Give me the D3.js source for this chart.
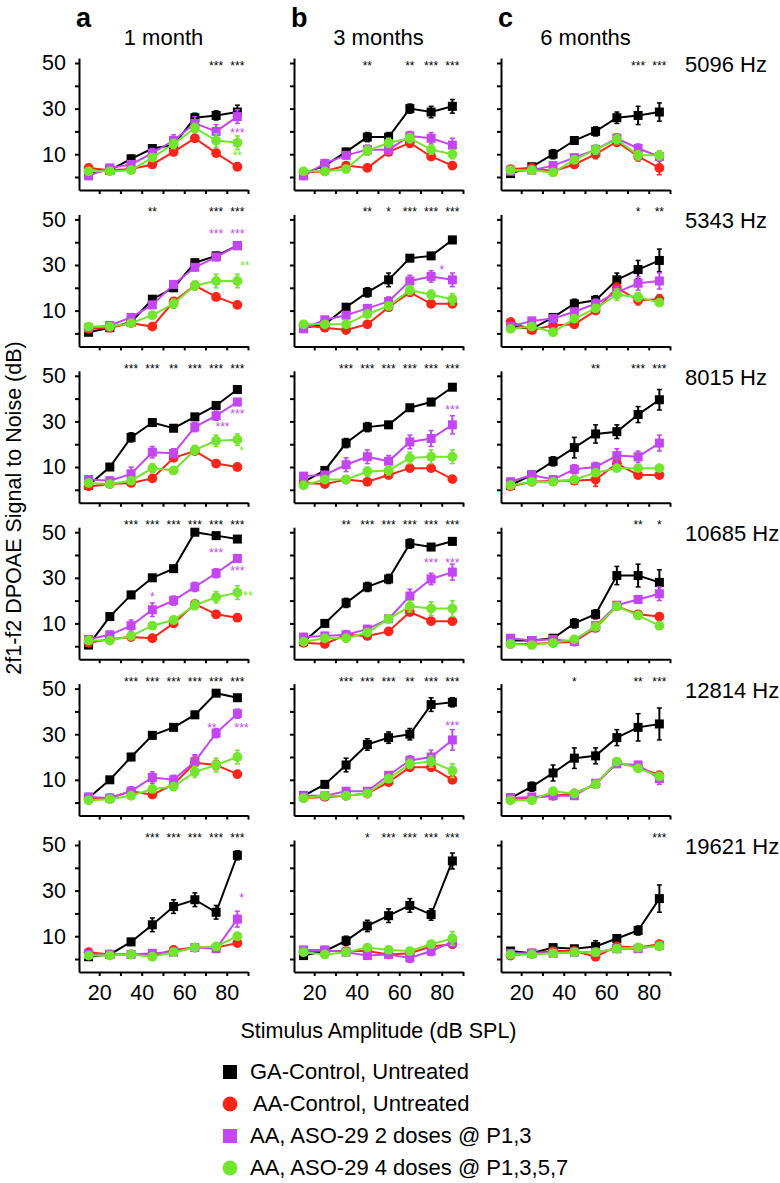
<!DOCTYPE html>
<html>
<head>
<meta charset="utf-8">
<script src="https://cdn.jsdelivr.net/npm/d3@7"></script>
<style>
  body { margin: 0; background: #fff; }
  svg text { font-family: "Liberation Sans", Arial, Helvetica, sans-serif; fill: #000; }
</style>
</head>
<body>
<div id="chart"></div>
<script>
// Stimulus levels (dB SPL) on the x axis
const levels = [15, 25, 35, 45, 55, 65, 75, 85];
const xTicks = [20, 30, 40, 50, 60, 70, 80, 90];
const xTickLabels = [20, 40, 60, 80];
const yTicks = [0, 10, 20, 30, 40, 50];
const yTickLabels = [10, 30, 50];

const ages = ["1 month", "3 months", "6 months"];
const panelLetters = ["a", "b", "c"];
const freqs = ["5096 Hz", "5343 Hz", "8015 Hz", "10685 Hz", "12814 Hz", "19621 Hz"];

const seriesNames = [
  "GA-Control, Untreated",
  "AA-Control, Untreated",
  "AA, ASO-29 2 doses @ P1,3",
  "AA, ASO-29 4 doses @ P1,3,5,7"
];
const seriesColors = ["#000000", "#ff2418", "#c446f2", "#72e62c"];
const seriesShapes = ["square", "circle", "square", "circle"];

// mean signal-to-noise (dB), [frequency row][age column][level]
const gaControl = [
  [[2, 3, 8, 12.5, 14, 26, 27, 28.5], [1.5, 5, 11, 17.5, 17.5, 30, 28.5, 31], [1.5, 4.5, 10, 16, 20, 26, 27, 28.5]],
  [[0.5, 2.5, 5, 15, 20, 31, 34, 38.5], [2.5, 4, 11.5, 18, 23.5, 33, 34, 41], [3, 2, 7, 13, 14.5, 23.5, 28, 32]],
  [[2, 10, 23, 29.5, 27, 32, 37, 44], [3.5, 8.5, 20.5, 27.5, 28.5, 36, 38.5, 45], [2, 6.5, 12.5, 18.5, 24.5, 25.5, 33, 39.5]],
  [[0.5, 13, 22.5, 30, 34, 50, 48.5, 47], [2, 10, 19, 26, 29.5, 45, 43.5, 46], [2.5, 2.5, 3.5, 10, 14, 31, 31, 28]],
  [[2, 10, 20, 29.5, 33, 38.5, 48, 46], [3, 8, 16.5, 25.5, 28.5, 30, 43, 44], [2, 7, 13, 19.5, 20.5, 28.5, 33, 34.5]],
  [[1, 2, 7.5, 15, 23, 26, 20.5, 45.5], [1.5, 3.5, 8, 14.5, 19, 23.5, 19.5, 43], [3.5, 2.5, 5, 4.5, 5.5, 9, 12.5, 26.5]]
];
const aaControl = [
  [[4, 3, 3.5, 5.5, 11, 17, 10.5, 4.5], [2, 2.5, 5, 4, 11, 15, 9, 5], [3.5, 4, 2.5, 5.5, 10, 15.5, 9, 4]],
  [[2, 2.5, 4.5, 3, 14, 21, 16, 12.5], [3.5, 2.5, 1.5, 4, 11.5, 18, 13, 13], [5, 1.5, 3.5, 4, 10, 20, 14.5, 15]],
  [[1.5, 2.5, 3, 5, 14, 17, 11.5, 10], [3, 2.5, 4.5, 3.5, 6.5, 9.5, 9.5, 4.7], [1.5, 3.5, 4, 4, 4.5, 11.5, 6.5, 6.5]],
  [[1.5, 3, 4, 3.5, 10, 18.5, 14, 12.5], [1.5, 1, 5, 4.5, 6.5, 15, 11, 11], [1, 1, 1.5, 2, 8, 17.5, 14, 13]],
  [[2, 2, 5, 3.5, 8, 17.5, 16.5, 12.5], [2, 2.5, 3, 4, 9, 15.5, 15.5, 10], [1.5, 2, 3, 4, 8, 17.5, 15.5, 12]],
  [[3, 2, 2, 1.5, 4, 5, 5, 7], [3.5, 3.5, 3.5, 3.5, 2, 2.5, 5.5, 6.5], [1.5, 2.5, 3.5, 3.5, 1, 5.5, 5, 6.5]]
];
const aso2Doses = [
  [[0.5, 4, 5.5, 10.5, 16, 23.5, 20, 26.5], [0.5, 6, 9.5, 12, 12, 18, 17, 14], [2.5, 3, 5, 8.5, 12, 17, 12.5, 9]],
  [[2.5, 3.5, 7, 12.5, 21.5, 29, 33.5, 38.5], [2, 6, 8, 11, 14, 23, 25, 23.5], [3, 5.5, 6.5, 9.5, 13, 18, 22, 23]],
  [[4.5, 4, 7, 16.5, 16, 27.5, 32.5, 38.5], [6, 6.5, 11, 14.5, 12.5, 21, 22.5, 28.5], [3.5, 6.5, 4.5, 9, 10, 15, 14.5, 20.5]],
  [[3, 5, 9, 16, 20, 26, 32, 38.5], [4, 4.5, 5, 7.5, 12, 22, 29.5, 32.5], [3.5, 2.5, 3, 2, 9, 18, 20.5, 23]],
  [[2.5, 2, 5, 11, 10, 18, 30.5, 39], [3, 3, 5, 5, 12, 18.5, 20, 27.5], [2, 2.5, 3, 3, 8.5, 17, 16.5, 10.5]],
  [[2, 2, 2, 2.5, 3, 5, 4.5, 17.5], [4, 4, 3, 1.5, 2, 0.5, 3.5, 7.5], [2.5, 2.5, 2.5, 3, 3, 4.5, 4.5, 6]]
];
const aso4Doses = [
  [[2.5, 2.5, 3, 8.5, 14.5, 21.5, 16, 15], [2.5, 2.5, 3.5, 11.5, 15, 17, 12, 10], [3, 3, 2, 7.5, 12, 16.5, 9.5, 9.5]],
  [[3, 3, 4.5, 8, 13, 21, 23, 23], [4, 4, 4, 8.5, 12, 19, 17, 15], [2, 3, 0.5, 6.5, 11, 17, 16, 13.5]],
  [[3, 2.5, 4, 9.5, 8.5, 17.5, 21.5, 22], [2, 4.5, 4.5, 8, 8.5, 14, 14.5, 14.5], [2, 3.5, 3.5, 4.5, 7.5, 9.5, 9.5, 9.5]],
  [[2.5, 2.5, 4.5, 9, 11.5, 18, 21.5, 23.5], [2, 3.5, 3.5, 6, 12, 17.5, 16.5, 16.5], [1, 0.5, 1.5, 3, 8.5, 17.5, 13.5, 9]],
  [[1, 1.5, 3, 6, 7, 13.5, 16.5, 20], [2, 3, 3, 4, 10.5, 17, 18, 14], [1, 1, 5, 4, 8, 18, 15, 11.5]],
  [[1.5, 1.5, 2, 1, 3, 5, 5.5, 10], [3, 2, 3, 5, 4, 3.5, 6.5, 9], [2, 2, 2.5, 3, 3, 4.5, 5, 5.5]]
];

// SEM (dB), same layout
const gaControlErr = [
  [[1, 1, 1.5, 1.5, 1.5, 2, 2, 3], [1, 1, 1.5, 2, 2, 2, 2.5, 3], [1.5, 1, 2, 1.5, 2, 2.5, 4, 4]],
  [[1, 1, 1, 1.5, 1.5, 1.5, 1.5, 1.5], [1, 1, 1.5, 2, 3, 1, 1, 1.5], [1, 1, 1.5, 2, 2, 3, 4, 5]],
  [[1, 1, 2, 1, 1, 1, 1, 1], [1, 1.5, 2, 2, 1, 1, 1.5, 1], [1, 1.5, 2, 4.5, 4, 3, 3.5, 4.5]],
  [[1, 1, 1.5, 1, 1, 1, 1, 1], [1, 1, 2, 2, 2, 2, 1, 1.5], [1, 1, 1.5, 2, 2, 4, 5, 5.5]],
  [[1, 1, 1.5, 1.5, 1, 1.5, 1, 1], [1, 1.5, 3, 2.5, 2.5, 2.5, 3, 2], [1.5, 2, 3.5, 4.5, 3.5, 3.5, 6, 7]],
  [[1, 1, 1.5, 3, 3, 3, 3, 2], [1, 1, 2, 2.5, 3, 3, 2.5, 3.5], [1, 1, 1, 1, 2.5, 1.5, 2, 6]]
];
const aaControlErr = [
  [[1, 1, 1, 1, 1.5, 1.5, 1.5, 1.5], [1, 1, 1, 1.5, 1.5, 2, 1.5, 1.5], [1, 1, 1, 1.5, 2, 2, 2, 3]],
  [[1, 1, 1, 1, 1.5, 1.5, 1.5, 1.5], [1, 1, 1, 1, 1.5, 1.5, 1.5, 1.5], [1, 1, 1, 1.5, 1.5, 2, 2, 2]],
  [[1, 1, 1, 1, 1.5, 1.5, 1.5, 1], [1, 1, 1, 1, 1.5, 1.5, 1.5, 1], [1, 1, 1, 1.5, 3, 2, 1.5, 1.5]],
  [[1, 1, 1, 1, 1.5, 1.5, 1.5, 1.5], [1, 1, 1, 1, 1.5, 1.5, 1.5, 1.5], [1, 1, 1, 1, 1.5, 1.5, 1.5, 1.5]],
  [[1, 1, 1, 1, 1.5, 3, 2, 1.5], [1, 1, 1, 1, 1.5, 1.5, 1.5, 1.5], [1, 1, 1, 1, 1.5, 1.5, 1.5, 1.5]],
  [[1, 1, 1, 1, 1, 1, 1, 1], [1, 1, 1, 1, 1, 1.5, 1.5, 1.5], [1, 1, 1, 1, 1.5, 1, 1, 1.5]]
];
const aso2DosesErr = [
  [[1, 1, 1.5, 2, 2.5, 3, 3, 3], [1, 1, 1.5, 2, 2, 2, 2.5, 3], [1, 1, 1.5, 1.5, 2, 2, 2, 2]],
  [[1, 1, 1.5, 1.5, 1.5, 1.5, 1.5, 1.5], [1, 1, 1.5, 1.5, 2, 2.5, 2.5, 3], [1, 1, 1.5, 1.5, 2, 2.5, 3, 3.5]],
  [[1.5, 1.5, 3, 2.5, 2, 2, 2, 1.5], [1.5, 1.5, 3, 3, 2.5, 3, 3.5, 4], [1.5, 1.5, 1.5, 2, 2, 3, 2.5, 3.5]],
  [[1.5, 1.5, 2.5, 3, 2, 2, 2, 1.5], [1.5, 1.5, 1.5, 1.5, 1.5, 3, 2.5, 3.5], [1.5, 1, 1, 1.5, 1.5, 1.5, 1.5, 3]],
  [[1.5, 1.5, 2, 2.5, 2, 3, 2, 2], [1.5, 1.5, 1.5, 1.5, 1.5, 2, 3, 4.5], [1, 1, 1, 1, 1.5, 1.5, 1.5, 2.5]],
  [[1, 1, 1, 1, 1, 1.5, 1.5, 3.5], [1, 1, 1, 1.5, 1.5, 2, 2, 2], [1, 1, 1, 1, 1, 1, 1, 1.5]]
];
const aso4DosesErr = [
  [[1, 1, 1, 1.5, 2, 2, 3, 3], [1, 1, 1, 2, 2, 2, 2, 2], [1, 1, 1, 1.5, 2, 2, 2, 2]],
  [[1, 1, 1, 1.5, 2, 2, 3, 3], [1, 1, 1, 1.5, 1.5, 2, 2, 2.5], [1, 1, 1, 1.5, 1.5, 2.5, 2, 1.5]],
  [[1, 1, 1.5, 2, 1.5, 2, 2.5, 2.5], [1, 1, 1.5, 2, 2, 2.5, 3, 3], [1, 1, 1, 1, 1.5, 1.5, 1, 1]],
  [[1, 1, 1, 1.5, 1.5, 2, 2.5, 3], [1, 1, 1, 1.5, 1.5, 2.5, 3, 3.5], [1, 1, 1, 1, 1.5, 1.5, 1.5, 1.5]],
  [[1, 1, 1, 1.5, 1.5, 2.5, 3, 3], [1, 1, 1, 1, 1.5, 2, 2.5, 3], [1, 1, 1, 1, 1.5, 1.5, 1.5, 1.5]],
  [[1, 1, 1, 1, 1, 1, 1, 1.5], [1, 1, 1, 1, 1, 1, 1.5, 3], [1, 1, 1, 1, 1, 1, 1, 1]]
];

// GA-Control vs AA-Control significance, per level
const gaStars = [
  [["", "", "", "", "", "", "***", "***"], ["", "", "", "**", "", "**", "***", "***"], ["", "", "", "", "", "", "***", "***"]],
  [["", "", "", "**", "", "", "***", "***"], ["", "", "", "**", "*", "***", "***", "***"], ["", "", "", "", "", "", "*", "**"]],
  [["", "", "***", "***", "**", "***", "***", "***"], ["", "", "***", "***", "***", "***", "***", "***"], ["", "", "", "", "**", "", "***", "***"]],
  [["", "", "***", "***", "***", "***", "***", "***"], ["", "", "**", "***", "***", "***", "***", "***"], ["", "", "", "", "", "", "**", "*"]],
  [["", "", "***", "***", "***", "***", "***", "***"], ["", "", "***", "***", "***", "**", "***", "***"], ["", "", "", "*", "", "", "**", "***"]],
  [["", "", "", "***", "***", "***", "***", "***"], ["", "", "", "*", "***", "***", "***", "***"], ["", "", "", "", "", "", "", "***"]]
];
// treated vs AA-Control significance: [row, column, level, dB position, stars, series]
const treatedStars = [
  [0, 0, 85, 20.5, "***", 2], [0, 0, 85, 10.5, "**", 3],
  [1, 0, 75, 45, "***", 2], [1, 0, 85, 45, "***", 2], [1, 0, 88.5, 31, "**", 3],
  [1, 1, 80, 29, "*", 2],
  [2, 0, 78, 29, "***", 2], [2, 0, 85, 34.5, "***", 2], [2, 0, 87, 18.5, "*", 3],
  [2, 1, 85, 36.5, "***", 2],
  [3, 0, 45, 23, "*", 2], [3, 0, 75, 42, "***", 2], [3, 0, 85, 34.5, "***", 2], [3, 0, 90, 23.5, "**", 3],
  [3, 1, 75, 38, "***", 2], [3, 1, 85, 38, "***", 2],
  [4, 0, 73, 34, "**", 2], [4, 0, 87, 34, "***", 2],
  [4, 1, 85, 35, "***", 2],
  [5, 0, 87, 28, "*", 2]
];

const seriesValues = [gaControl, aaControl, aso2Doses, aso4Doses];
const seriesErrors = [gaControlErr, aaControlErr, aso2DosesErr, aso4DosesErr];

// Layout
const W = 780, H = 1183;
const colX = [79, 294, 501];
const panelW = 169, panelH = 132;
const firstAxisY = 190, rowStep = 156.4;
const fontSize = 21.5;

const svg = d3.select("#chart")
  .append("svg")
  .attr("width", W)
  .attr("height", H);

function drawMarker(g, shape, cx, cy, color, size) {
  if (shape === "square") {
    g.append("rect")
      .attr("x", cx - size / 2).attr("y", cy - size / 2)
      .attr("width", size).attr("height", size)
      .attr("fill", color);
  } else {
    g.append("circle")
      .attr("cx", cx).attr("cy", cy)
      .attr("r", size / 2 + 0.4)
      .attr("fill", color);
  }
}

freqs.forEach((freq, r) => {
  const axisY = firstAxisY + r * rowStep;

  ages.forEach((age, c) => {
    const x = d3.scaleLinear().domain([10.5, 90]).range([colX[c], colX[c] + panelW]);
    const y = d3.scaleLinear().domain([-5.7, 52.2]).range([axisY, axisY - panelH]);
    const g = svg.append("g");

    // Y axis
    const yAxis = g.append("g")
      .attr("transform", `translate(${colX[c]},0)`)
      .call(d3.axisLeft(y).tickValues(yTicks).tickSize(4).tickSizeOuter(0).tickPadding(9)
        .tickFormat(d => (c === 0 && yTickLabels.includes(d)) ? d : ""));

    // X axis
    const xAxis = g.append("g")
      .attr("transform", `translate(0,${axisY})`)
      .call(d3.axisBottom(x).tickValues(xTicks).tickSize(4).tickSizeOuter(0).tickPadding(9)
        .tickFormat(d => (r === freqs.length - 1 && xTickLabels.includes(d)) ? d : ""));

    [yAxis, xAxis].forEach(a => {
      a.selectAll("path, line").attr("stroke", "#000").attr("stroke-width", 2);
      a.selectAll("text").attr("font-size", fontSize).attr("font-family", "Liberation Sans, Arial, sans-serif");
    });

    // Series: lines, error bars, markers
    seriesValues.forEach((vals, s) => {
      const v = vals[r][c];
      const e = seriesErrors[s][r][c];
      const color = seriesColors[s];
      const pts = levels.map((lv, i) => ({ lv, val: v[i], err: e[i] }));

      g.append("path")
        .datum(pts)
        .attr("fill", "none")
        .attr("stroke", color)
        .attr("stroke-width", 2)
        .attr("d", d3.line().x(d => x(d.lv)).y(d => y(d.val)));

      pts.forEach(d => {
        const cx = x(d.lv);
        g.append("line")
          .attr("x1", cx).attr("x2", cx)
          .attr("y1", y(d.val - d.err)).attr("y2", y(d.val + d.err))
          .attr("stroke", color).attr("stroke-width", 2);
        [d.val - d.err, d.val + d.err].forEach(t => {
          g.append("line")
            .attr("x1", cx - 2.5).attr("x2", cx + 2.5)
            .attr("y1", y(t)).attr("y2", y(t))
            .attr("stroke", color).attr("stroke-width", 1.5);
        });
        drawMarker(g, seriesShapes[s], cx, y(d.val), color, 9);
      });
    });

    // GA vs AA significance stars above the panel
    const starY = axisY - (r === 0 ? 127 : 137);
    gaStars[r][c].forEach((st, i) => {
      if (!st) return;
      g.append("text")
        .attr("x", x(levels[i]))
        .attr("y", starY + 7)
        .attr("text-anchor", "middle")
        .attr("font-size", 12)
        .text(st);
    });

    // Treated vs AA stars
    treatedStars.filter(t => t[0] === r && t[1] === c).forEach(t => {
      g.append("text")
        .attr("x", x(t[2]))
        .attr("y", y(t[3]) + 7)
        .attr("text-anchor", "middle")
        .attr("font-size", 12)
        .style("fill", seriesColors[t[5]])
        .text(t[4]);
    });

    // Column headers
    if (r === 0) {
      svg.append("text")
        .attr("x", colX[c] - 3)
        .attr("y", 27)
        .attr("font-size", 27)
        .attr("font-weight", "bold")
        .text(panelLetters[c]);
      svg.append("text")
        .attr("x", colX[c] + panelW / 2)
        .attr("y", 45)
        .attr("text-anchor", "middle")
        .attr("font-size", 22)
        .text(age);
    }
  });

  // Frequency label
  svg.append("text")
    .attr("x", 685)
    .attr("y", axisY - 118)
    .attr("font-size", 22)
    .text(freq);
});

// Axis titles
svg.append("text")
  .attr("transform", "translate(21,508) rotate(-90)")
  .attr("text-anchor", "middle")
  .attr("font-size", fontSize)
  .text("2f1-f2 DPOAE Signal to Noise (dB)");

svg.append("text")
  .attr("x", colX[1] + panelW / 2)
  .attr("y", 1038)
  .attr("text-anchor", "middle")
  .attr("font-size", fontSize)
  .text("Stimulus Amplitude (dB SPL)");

// Legend
const legend = svg.append("g");
seriesNames.forEach((name, s) => {
  const ly = 1072 + s * 32;
  drawMarker(legend, seriesShapes[s], 230, ly, seriesColors[s], 14);
  legend.append("text")
    .attr("x", s === 1 ? 253 : 250)
    .attr("y", ly + 7)
    .attr("font-size", 22)
    .text(name);
});
</script>
</body>
</html>
